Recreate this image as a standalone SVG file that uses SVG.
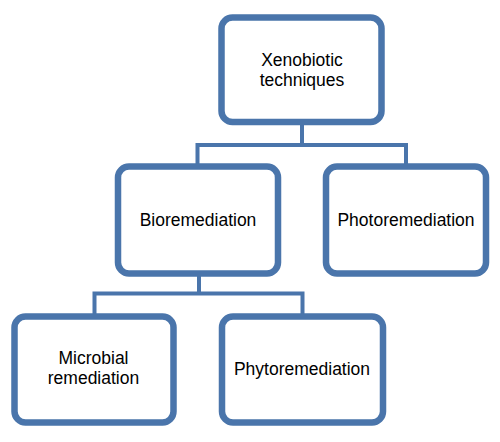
<svg xmlns="http://www.w3.org/2000/svg" width="500" height="442" viewBox="0 0 500 442">
<style>
.box{fill:#ffffff;stroke:#4a75ab;stroke-width:6.5}
.conn{fill:none;stroke:#4a75ab;stroke-width:4}
.t{font-family:"Liberation Sans",Arial,sans-serif;font-size:17.5px;fill:#000;text-anchor:middle}
</style>
<rect width="500" height="442" fill="#ffffff"/>
<g id="connectors">
<path class="conn" d="M302 122 V145 M197.5 166 V145 H406 V166"/>
<path class="conn" d="M199 273 V293.5 M94.5 316 V293.5 H302.5 V316"/>
</g>
<g id="xenobiotic">
<rect class="box" x="221.5" y="17.5" width="160" height="104.5" rx="11"/>
<text class="t" x="302" y="66">Xenobiotic</text>
<text class="t" x="302" y="85.5">techniques</text>
</g>
<g id="bioremediation">
<rect class="box" x="118" y="166.5" width="160" height="107" rx="11"/>
<text class="t" x="198" y="225.5">Bioremediation</text>
</g>
<g id="photoremediation">
<rect class="box" x="326" y="166.5" width="160" height="107" rx="11"/>
<text class="t" x="406" y="225.5">Photoremediation</text>
</g>
<g id="microbial">
<rect class="box" x="14.5" y="316.5" width="159" height="106" rx="11"/>
<text class="t" x="93.5" y="364">Microbial</text>
<text class="t" x="93.5" y="384">remediation</text>
</g>
<g id="phytoremediation">
<rect class="box" x="222" y="316.5" width="161" height="106" rx="11"/>
<text class="t" x="302" y="375">Phytoremediation</text>
</g>
</svg>
